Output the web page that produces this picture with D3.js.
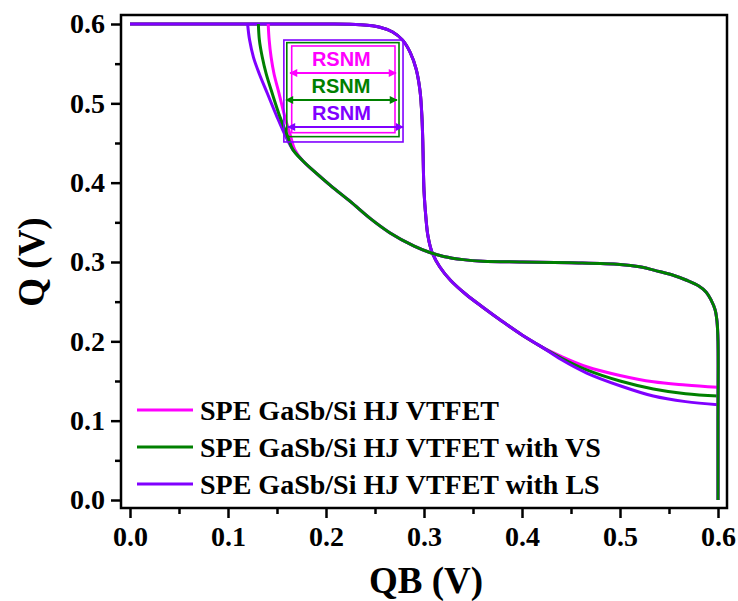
<!DOCTYPE html>
<html>
<head>
<meta charset="utf-8">
<script src="https://cdn.jsdelivr.net/npm/d3@7"></script>
<style>
  body { margin: 0; background: #fff; }
  svg { display: block; }
</style>
</head>
<body>
<svg id="chart" width="738" height="601"></svg>
<script>
// butterfly curves, [QB, Q] pairs
const seriesNames = ["SPE GaSb/Si HJ VTFET", "SPE GaSb/Si HJ VTFET with VS", "SPE GaSb/Si HJ VTFET with LS"];
const seriesColors = ["#ff00ff", "#008000", "#8000ff"];

// inverter 1: Q as a function of QB
const fwdBase = [[0, 0.6], [0.1, 0.6], [0.2, 0.6], [0.235, 0.599], [0.255, 0.596], [0.268, 0.59], [0.278, 0.58],
  [0.286, 0.564], [0.292, 0.543], [0.296, 0.515], [0.298, 0.48], [0.299, 0.44], [0.3, 0.39], [0.302, 0.355],
  [0.304, 0.333], [0.308, 0.313], [0.316, 0.294], [0.327, 0.277], [0.343, 0.259], [0.36, 0.243], [0.38, 0.225],
  [0.4, 0.208], [0.42, 0.193]];
const fwdTailVtfet = [[0.44, 0.181], [0.466, 0.168], [0.5, 0.157], [0.534, 0.149], [0.567, 0.145], [0.6, 0.142]];
const fwdTailVs = [[0.44, 0.179], [0.466, 0.164], [0.5, 0.150], [0.534, 0.140], [0.567, 0.134], [0.6, 0.131]];
const fwdTailLs = [[0.44, 0.177], [0.466, 0.160], [0.5, 0.144], [0.534, 0.131], [0.567, 0.124], [0.6, 0.120]];

// inverter 2: QB as a function of Q (plotted swapped)
const revBase = [[0.6, 0], [0.6, 0.1], [0.6, 0.2], [0.599, 0.225], [0.597, 0.24], [0.593, 0.252], [0.588, 0.262],
  [0.58, 0.27], [0.568, 0.277], [0.555, 0.283], [0.54, 0.288], [0.52, 0.294], [0.5, 0.297], [0.45, 0.299],
  [0.4, 0.3], [0.36, 0.301], [0.34, 0.303], [0.32, 0.307], [0.306, 0.312], [0.29, 0.32], [0.265, 0.337],
  [0.245, 0.355], [0.225, 0.376], [0.205, 0.396], [0.19, 0.412], [0.176, 0.428]];
const revTailVtfet = [[0.168, 0.442], [0.164, 0.458], [0.158, 0.483], [0.152, 0.513], [0.147, 0.537], [0.144, 0.558], [0.142, 0.58], [0.141, 0.6]];
const revTailVs = [[0.166, 0.442], [0.161, 0.458], [0.153, 0.483], [0.145, 0.513], [0.139, 0.537], [0.135, 0.558], [0.132, 0.58], [0.131, 0.6]];
const revTailLs = [[0.166, 0.442], [0.159, 0.458], [0.15, 0.483], [0.14, 0.513], [0.132, 0.537], [0.126, 0.558], [0.122, 0.58], [0.12, 0.6]];

// RSNM windows [qbLeft, qbRight, qBottom, qTop] and arrow [from, to, level]
const rsnmBoxes = [[0.165, 0.2704, 0.463, 0.5723], [0.160, 0.2745, 0.458, 0.5765], [0.157, 0.2786, 0.4513, 0.5798]];
const rsnmArrows = [[0.1633, 0.2714, 0.5382], [0.1592, 0.2724, 0.5042], [0.1612, 0.2786, 0.4702]];
const rsnmLabel = "RSNM";

const majorTicks = [0, 0.1, 0.2, 0.3, 0.4, 0.5, 0.6];
const minorTicks = [0.05, 0.15, 0.25, 0.35, 0.45, 0.55];

const fwdCurves = [fwdBase.concat(fwdTailVtfet), fwdBase.concat(fwdTailVs), fwdBase.concat(fwdTailLs)];
const revCurves = [revBase.concat(revTailVtfet), revBase.concat(revTailVs), revBase.concat(revTailLs)];

const svg = d3.select("#chart");
const serif = "'Liberation Serif', 'Times New Roman', 'DejaVu Serif', serif";
const sans = "'Liberation Sans', Arial, sans-serif";

const x = d3.scaleLinear().domain([0, 0.6]).range([130, 718]);
const y = d3.scaleLinear().domain([0, 0.6]).range([500, 24]);
const frame = { left: 121, right: 727, top: 15, bottom: 508 };

const line = d3.line().x(d => x(d[0])).y(d => y(d[1])).curve(d3.curveCatmullRom.alpha(0.5));

// markers for the double arrows
const defs = svg.append("defs");
seriesColors.forEach((c, i) => {
  defs.append("marker").attr("id", "arr" + i)
    .attr("viewBox", "0 0 10 10").attr("refX", 9).attr("refY", 5)
    .attr("markerWidth", 10).attr("markerHeight", 8).attr("markerUnits", "userSpaceOnUse")
    .attr("orient", "auto-start-reverse")
    .append("path").attr("d", "M0,0 L10,5 L0,10 Z").attr("fill", c);
});

const plot = svg.append("g");

// forward curves first, then reverse ones (green ends up on top there)
[0, 1, 2].forEach(i => {
  plot.append("path").datum(fwdCurves[i]).attr("d", line)
    .attr("fill", "none").attr("stroke", seriesColors[i]).attr("stroke-width", 3);
});
[0, 2, 1].forEach(i => {
  plot.append("path").datum(revCurves[i]).attr("d", line)
    .attr("fill", "none").attr("stroke", seriesColors[i]).attr("stroke-width", 3);
});

// RSNM boxes
rsnmBoxes.forEach((b, i) => {
  plot.append("rect")
    .attr("x", x(b[0])).attr("y", y(b[3]))
    .attr("width", x(b[1]) - x(b[0])).attr("height", y(b[2]) - y(b[3]))
    .attr("fill", "none").attr("stroke", seriesColors[i]).attr("stroke-width", 1.6);
  const a = rsnmArrows[i];
  plot.append("line")
    .attr("x1", x(a[0])).attr("x2", x(a[1])).attr("y1", y(a[2])).attr("y2", y(a[2]))
    .attr("stroke", seriesColors[i]).attr("stroke-width", 2)
    .attr("marker-start", "url(#arr" + i + ")").attr("marker-end", "url(#arr" + i + ")");
  plot.append("text")
    .attr("x", (x(b[0]) + x(b[1])) / 2 - 2).attr("y", y(a[2]) - 7)
    .attr("text-anchor", "middle")
    .style("font-family", sans).style("font-weight", "bold").style("font-size", "20px")
    .attr("fill", seriesColors[i]).text(rsnmLabel);
});

// frame
svg.append("rect")
  .attr("x", frame.left).attr("y", frame.top)
  .attr("width", frame.right - frame.left).attr("height", frame.bottom - frame.top)
  .attr("fill", "none").attr("stroke", "#000").attr("stroke-width", 2.5);

// axes
const fmt = d3.format(".1f");
const xAxis = svg.append("g").attr("transform", `translate(0,${frame.bottom})`)
  .call(d3.axisBottom(x).tickValues(majorTicks).tickFormat(fmt).tickSize(10).tickPadding(8));
const xMinor = svg.append("g").attr("transform", `translate(0,${frame.bottom})`)
  .call(d3.axisBottom(x).tickValues(minorTicks).tickFormat("").tickSize(6));
const yAxis = svg.append("g").attr("transform", `translate(${frame.left},0)`)
  .call(d3.axisLeft(y).tickValues(majorTicks).tickFormat(fmt).tickSize(10).tickPadding(6));
const yMinor = svg.append("g").attr("transform", `translate(${frame.left},0)`)
  .call(d3.axisLeft(y).tickValues(minorTicks).tickFormat("").tickSize(6));

[xAxis, xMinor, yAxis, yMinor].forEach(g => {
  g.attr("font-family", null).attr("font-size", null);
  g.select(".domain").remove();
  g.selectAll(".tick line").attr("stroke", "#000").attr("stroke-width", 2.5);
  g.selectAll(".tick text")
    .style("font-family", serif).style("font-weight", "bold").style("font-size", "28px")
    .attr("fill", "#000");
});

// axis titles
svg.append("text").attr("x", 426).attr("y", 593).attr("text-anchor", "middle")
  .style("font-family", serif).style("font-weight", "bold").style("font-size", "37px").text("QB (V)");
svg.append("text").attr("transform", "translate(44,262) rotate(-90)").attr("text-anchor", "middle")
  .style("font-family", serif).style("font-weight", "bold").style("font-size", "37px").text("Q (V)");

// legend
const legendRows = [410, 447, 484];
seriesNames.forEach((name, i) => {
  svg.append("line").attr("x1", 137).attr("x2", 193).attr("y1", legendRows[i]).attr("y2", legendRows[i])
    .attr("stroke", seriesColors[i]).attr("stroke-width", 3);
  svg.append("text").attr("x", 200).attr("y", legendRows[i] + 10)
    .style("font-family", serif).style("font-weight", "bold").style("font-size", "28px")
    .attr("fill", "#000").text(name);
});
</script>
</body>
</html>
